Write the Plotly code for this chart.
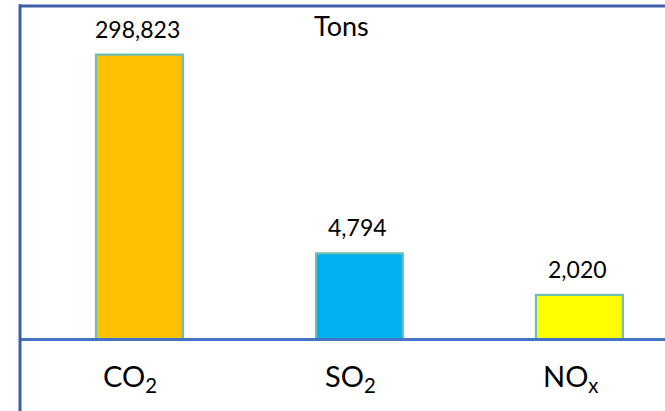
import plotly.graph_objects as go
import math

categories = ["CO<sub>2</sub>", "SO<sub>2</sub>", "NO<sub>x</sub>"]
values = [298823, 4794, 2020]
value_labels = ["298,823", "4,794", "2,020"]
bar_colors = ["#FFC000", "#00B0F0", "#FFFF00"]
unit_title = "Tons"

xpos = list(range(len(categories)))

fig = go.Figure()
fig.add_trace(go.Bar(
    x=xpos, y=values, width=0.395,
    marker=dict(color=bar_colors, line=dict(color="#6CC0B2", width=2.2)),
    hoverinfo="skip",
))

for xi, v, lab in zip(xpos, values, value_labels):
    fig.add_annotation(x=xi, y=math.log10(v), text=lab, showarrow=False,
                       yanchor="bottom", yshift=10, xshift=-2,
                       font=dict(family="Lato", size=23, color="#000000"))

for xi, cat in zip(xpos, categories):
    fig.add_annotation(x=xi, y=0, yref="paper", text=cat, showarrow=False,
                       yanchor="top", yshift=-18, xshift=-9,
                       font=dict(family="Lato", size=29, color="#000000"))

fig.add_annotation(x=0.5, xref="x", y=0.997, yref="paper", text=unit_title,
                   showarrow=False, yanchor="top", xshift=92,
                   font=dict(family="Lato", size=27, color="#000000"))

plot_h = 411 - 6 - 73
fig.add_shape(type="line", xref="paper", yref="paper", x0=0, x1=1.01, y0=1, y1=1,
              line=dict(color="#3B5EA6", width=3))
fig.add_shape(type="line", xref="paper", yref="paper", x0=0, x1=0, y0=1.005,
              y1=-75 / plot_h, line=dict(color="#3B5EA6", width=3))

fig.update_layout(
    width=665, height=411,
    margin=dict(l=20, r=0, t=6, b=73),
    paper_bgcolor="white", plot_bgcolor="white",
    showlegend=False,
    xaxis=dict(range=[-0.543, 2.389], tickmode="array", tickvals=xpos,
               showticklabels=False, showgrid=False, zeroline=False,
               showline=True, linecolor="#4472C4", linewidth=2.5, ticks=""),
    yaxis=dict(type="log", range=[2.916, 5.915], showgrid=False,
               zeroline=False, showticklabels=False, ticks="", showline=False),
)

fig.write_html("out.html")
